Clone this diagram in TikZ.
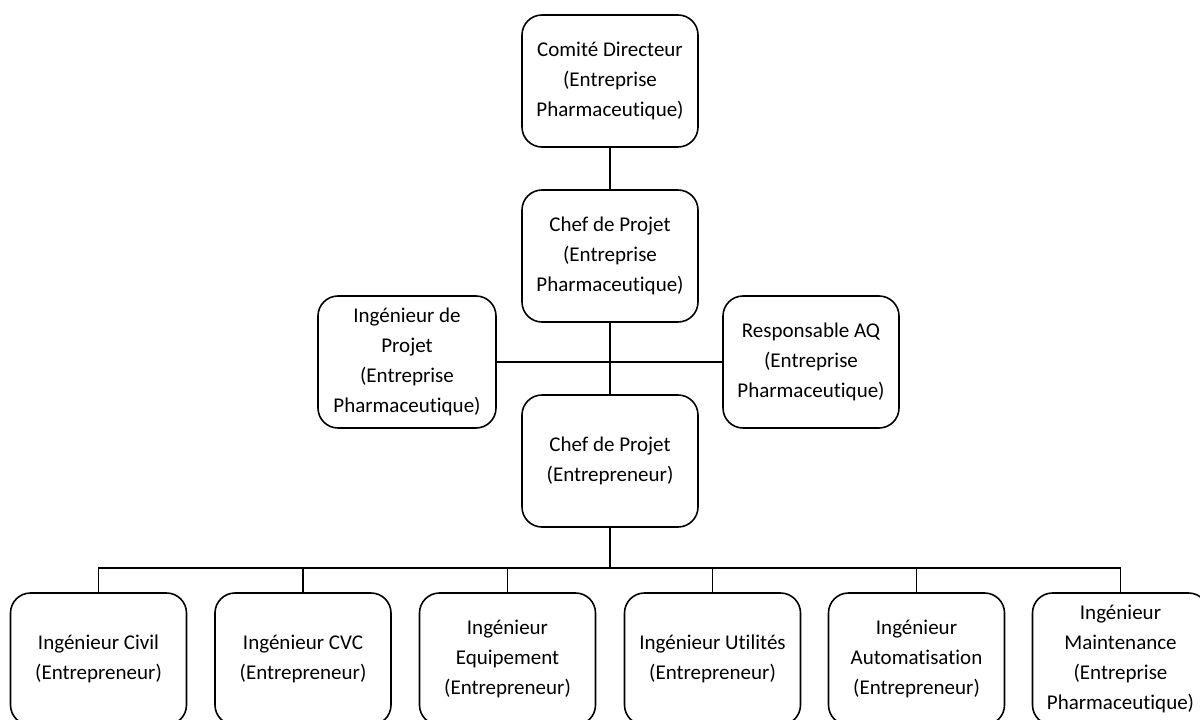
\documentclass[tikz,border=0pt]{standalone}
\usepackage{fontspec}
\setmainfont{Carlito}[Ligatures=NoCommon]
\begin{document}
\begin{tikzpicture}[x=1pt,y=-1pt,
  box/.style={draw=black, line width=1.6pt, rounded corners=20pt, fill=white,
    minimum width=176pt, minimum height=132pt, inner sep=0pt, align=center,
    font=\fontsize{21pt}{30pt}\selectfont},
  link/.style={draw=black, line width=1.3pt}]
\clip (0,0) rectangle (1200,720);
\fill[white] (0,0) rectangle (1200,720);
\node[box] (comite) at (610,81) {Comité Directeur\\(Entreprise\\Pharmaceutique)};
\node[box] (chefpharma) at (610,256) {Chef de Projet\\(Entreprise\\Pharmaceutique)};
\node[box, minimum width=178pt] (ingproj) at (407,362) {Ingénieur de\\Projet\\(Entreprise\\Pharmaceutique)};
\node[box] (respaq) at (811,362) {Responsable AQ\\(Entreprise\\Pharmaceutique)};
\node[box] (chefentr) at (610,461) {Chef de Projet\\(Entrepreneur)};
\node[box] (civil) at (98.5,659) {Ingénieur Civil\\(Entrepreneur)};
\node[box] (cvc) at (303,659) {Ingénieur CVC\\(Entrepreneur)};
\node[box] (equip) at (507.5,659) {Ingénieur\\Equipement\\(Entrepreneur)};
\node[box] (util) at (712.5,659) {Ingénieur Utilités\\(Entrepreneur)};
\node[box] (auto) at (916.5,659) {Ingénieur\\Automatisation\\(Entrepreneur)};
\node[box] (maint) at (1120.5,659) {Ingénieur\\Maintenance\\(Entreprise\\Pharmaceutique)};
\coordinate (bus) at (610,568);
\draw[link] (comite) -- (chefpharma);
\draw[link] (chefpharma) -- (chefentr);
\draw[link] (ingproj.east) -- (respaq.west);
\draw[link] (chefentr) -- (bus);
\foreach \n in {civil,cvc,equip,util,auto,maint}
  \draw[link] (bus) -| (\n.north);
\end{tikzpicture}
\end{document}
